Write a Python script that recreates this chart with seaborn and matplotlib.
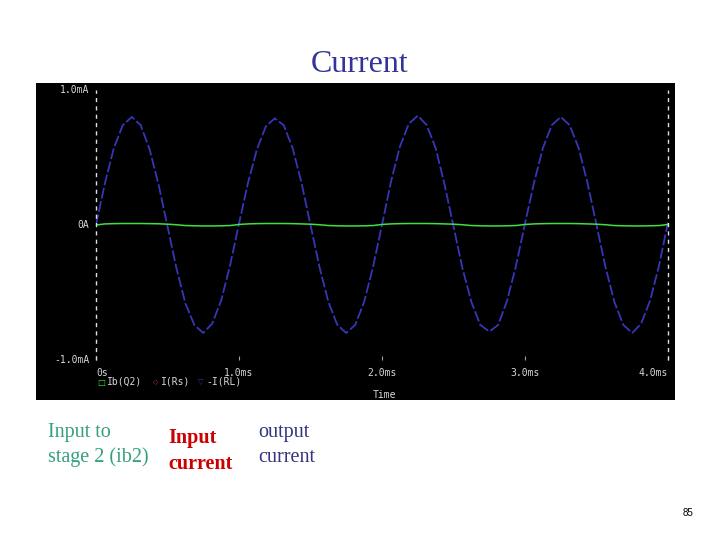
import numpy as np
import pandas as pd
import seaborn as sns
import matplotlib.pyplot as plt

# time axis in ms, values in mA
time_ms = [0.0, 0.0625, 0.125, 0.1875, 0.25, 0.3125, 0.375, 0.4375,
           0.5, 0.5625, 0.625, 0.6875, 0.75, 0.8125, 0.875, 0.9375,
           1.0, 1.0625, 1.125, 1.1875, 1.25, 1.3125, 1.375, 1.4375,
           1.5, 1.5625, 1.625, 1.6875, 1.75, 1.8125, 1.875, 1.9375,
           2.0, 2.0625, 2.125, 2.1875, 2.25, 2.3125, 2.375, 2.4375,
           2.5, 2.5625, 2.625, 2.6875, 2.75, 2.8125, 2.875, 2.9375,
           3.0, 3.0625, 3.125, 3.1875, 3.25, 3.3125, 3.375, 3.4375,
           3.5, 3.5625, 3.625, 3.6875, 3.75, 3.8125, 3.875, 3.9375, 4.0]

i_rl = [0.0, 0.31, 0.57, 0.74, 0.80, 0.74, 0.56, 0.30,
        -0.01, -0.32, -0.58, -0.74, -0.80, -0.73, -0.56, -0.30,
        0.01, 0.31, 0.56, 0.73, 0.79, 0.74, 0.57, 0.31,
        0.0, -0.31, -0.57, -0.74, -0.80, -0.74, -0.57, -0.31,
        0.0, 0.32, 0.58, 0.75, 0.81, 0.74, 0.57, 0.30,
        -0.01, -0.32, -0.57, -0.74, -0.79, -0.74, -0.56, -0.30,
        0.01, 0.31, 0.57, 0.74, 0.80, 0.74, 0.57, 0.31,
        0.0, -0.31, -0.57, -0.74, -0.80, -0.73, -0.56, -0.30, 0.02]

ib_q2 = [0.0, 0.008, 0.010, 0.011, 0.011, 0.011, 0.010, 0.009,
         0.006, 0.002, -0.004, -0.006, -0.007, -0.007, -0.006, -0.004,
         0.004, 0.008, 0.010, 0.011, 0.011, 0.011, 0.010, 0.008,
         0.006, 0.002, -0.004, -0.006, -0.007, -0.007, -0.006, -0.004,
         0.004, 0.008, 0.010, 0.011, 0.011, 0.011, 0.010, 0.008,
         0.006, 0.002, -0.004, -0.006, -0.007, -0.007, -0.006, -0.004,
         0.004, 0.008, 0.010, 0.011, 0.011, 0.011, 0.010, 0.008,
         0.006, 0.002, -0.004, -0.006, -0.007, -0.007, -0.006, -0.004, 0.004]

x_ticks = [0.0, 1.0, 2.0, 3.0, 4.0]
x_tick_labels = ["0s", "1.0ms", "2.0ms", "3.0ms", "4.0ms"]
y_ticks = [-1.0, 0.0, 1.0]
y_tick_labels = ["-1.0mA", "0A", "1.0mA"]

df = pd.DataFrame({"t": time_ms, "irl": i_rl, "ib": ib_q2})

fig = plt.figure(figsize=(7.2, 5.4), dpi=100)
fig.patch.set_facecolor("white")

# black probe window
bg = fig.add_axes([36 / 720, 1 - 400 / 540, 639 / 720, 317 / 540])
bg.set_facecolor("black")
bg.set_xticks([])
bg.set_yticks([])
for s in bg.spines.values():
    s.set_visible(False)

ax = fig.add_axes([96 / 720, 1 - 360 / 540, 572 / 720, 270 / 540])
ax.set_facecolor("black")
sns.lineplot(data=df, x="t", y="irl", ax=ax, color="#3636b8", lw=1.3,
             linestyle=(0, (6, 1.5)))
sns.lineplot(data=df, x="t", y="ib", ax=ax, color="#3ee03e", lw=1.1)
ax.set_xlim(0, 4.0)
ax.set_ylim(-1.0, 1.0)
for s in ax.spines.values():
    s.set_visible(False)
ax.axvline(0, color="#e0e0e0", lw=1, linestyle=(0, (3, 3)), clip_on=False)
ax.axvline(4.0, color="#e0e0e0", lw=1, linestyle=(0, (3, 3)), clip_on=False)
ax.set_xticks(x_ticks)
ax.set_xticklabels([])
ax.set_yticks(y_ticks)
ax.set_yticklabels([])
ax.tick_params(axis="x", length=3, color="#a0a0a0", direction="in")
ax.tick_params(axis="y", length=0)
ax.set_xlabel("")
ax.set_ylabel("")

mono = dict(family="DejaVu Sans Mono", fontsize=7, color="#d8d8d8")
for v, lab in zip(y_ticks, y_tick_labels):
    ax.annotate(lab, xy=(0, v), xycoords=("axes fraction", "data"),
                xytext=(-5, 0), textcoords="offset points",
                ha="right", va="center", **mono)
for i, (v, lab) in enumerate(zip(x_ticks, x_tick_labels)):
    ha = "left" if i == 0 else ("right" if i == len(x_ticks) - 1 else "center")
    ax.annotate(lab, xy=(v, 0), xycoords=("data", "axes fraction"),
                xytext=(0, -9), textcoords="offset points",
                ha=ha, va="center", **mono)

# PSpice style legend row and axis label
fig.text(97 / 720, 1 - 382 / 540, "\u25a1", color="#3ee03e", fontsize=6, va="center")
fig.text(107 / 720, 1 - 382 / 540, "Ib(Q2)", va="center", **mono)
fig.text(153 / 720, 1 - 382 / 540, "\u25c7", color="#c83030", fontsize=5, va="center")
fig.text(161 / 720, 1 - 382 / 540, "I(Rs)", va="center", **mono)
fig.text(198 / 720, 1 - 382 / 540, "\u25bd", color="#3636b8", fontsize=5, va="center")
fig.text(206 / 720, 1 - 382 / 540, "-I(RL)", va="center", **mono)
fig.text(384 / 720, 1 - 395 / 540, "Time", ha="center", va="center", **mono)

# slide text
serif = "Liberation Serif"
fig.text(0.5, 1 - 64 / 540, "Current", ha="center", va="center",
         family=serif, fontsize=23, color="#333399")
fig.text(48 / 720, 1 - 445 / 540, "Input to\nstage 2 (ib2)", ha="left", va="center",
         family=serif, fontsize=14.5, color="#33a080", linespacing=1.4)
fig.text(168 / 720, 1 - 451 / 540, "Input\ncurrent", ha="left", va="center",
         family=serif, fontsize=14.5, color="#cc0000", fontweight="bold", linespacing=1.4)
fig.text(258 / 720, 1 - 445 / 540, "output\ncurrent", ha="left", va="center",
         family=serif, fontsize=14.5, color="#333380", linespacing=1.4)
fig.text(688 / 720, 1 - 513 / 540, "85", ha="center", va="center",
         family="Liberation Sans", fontsize=7, color="black")

fig.savefig("out.png", dpi=100)
